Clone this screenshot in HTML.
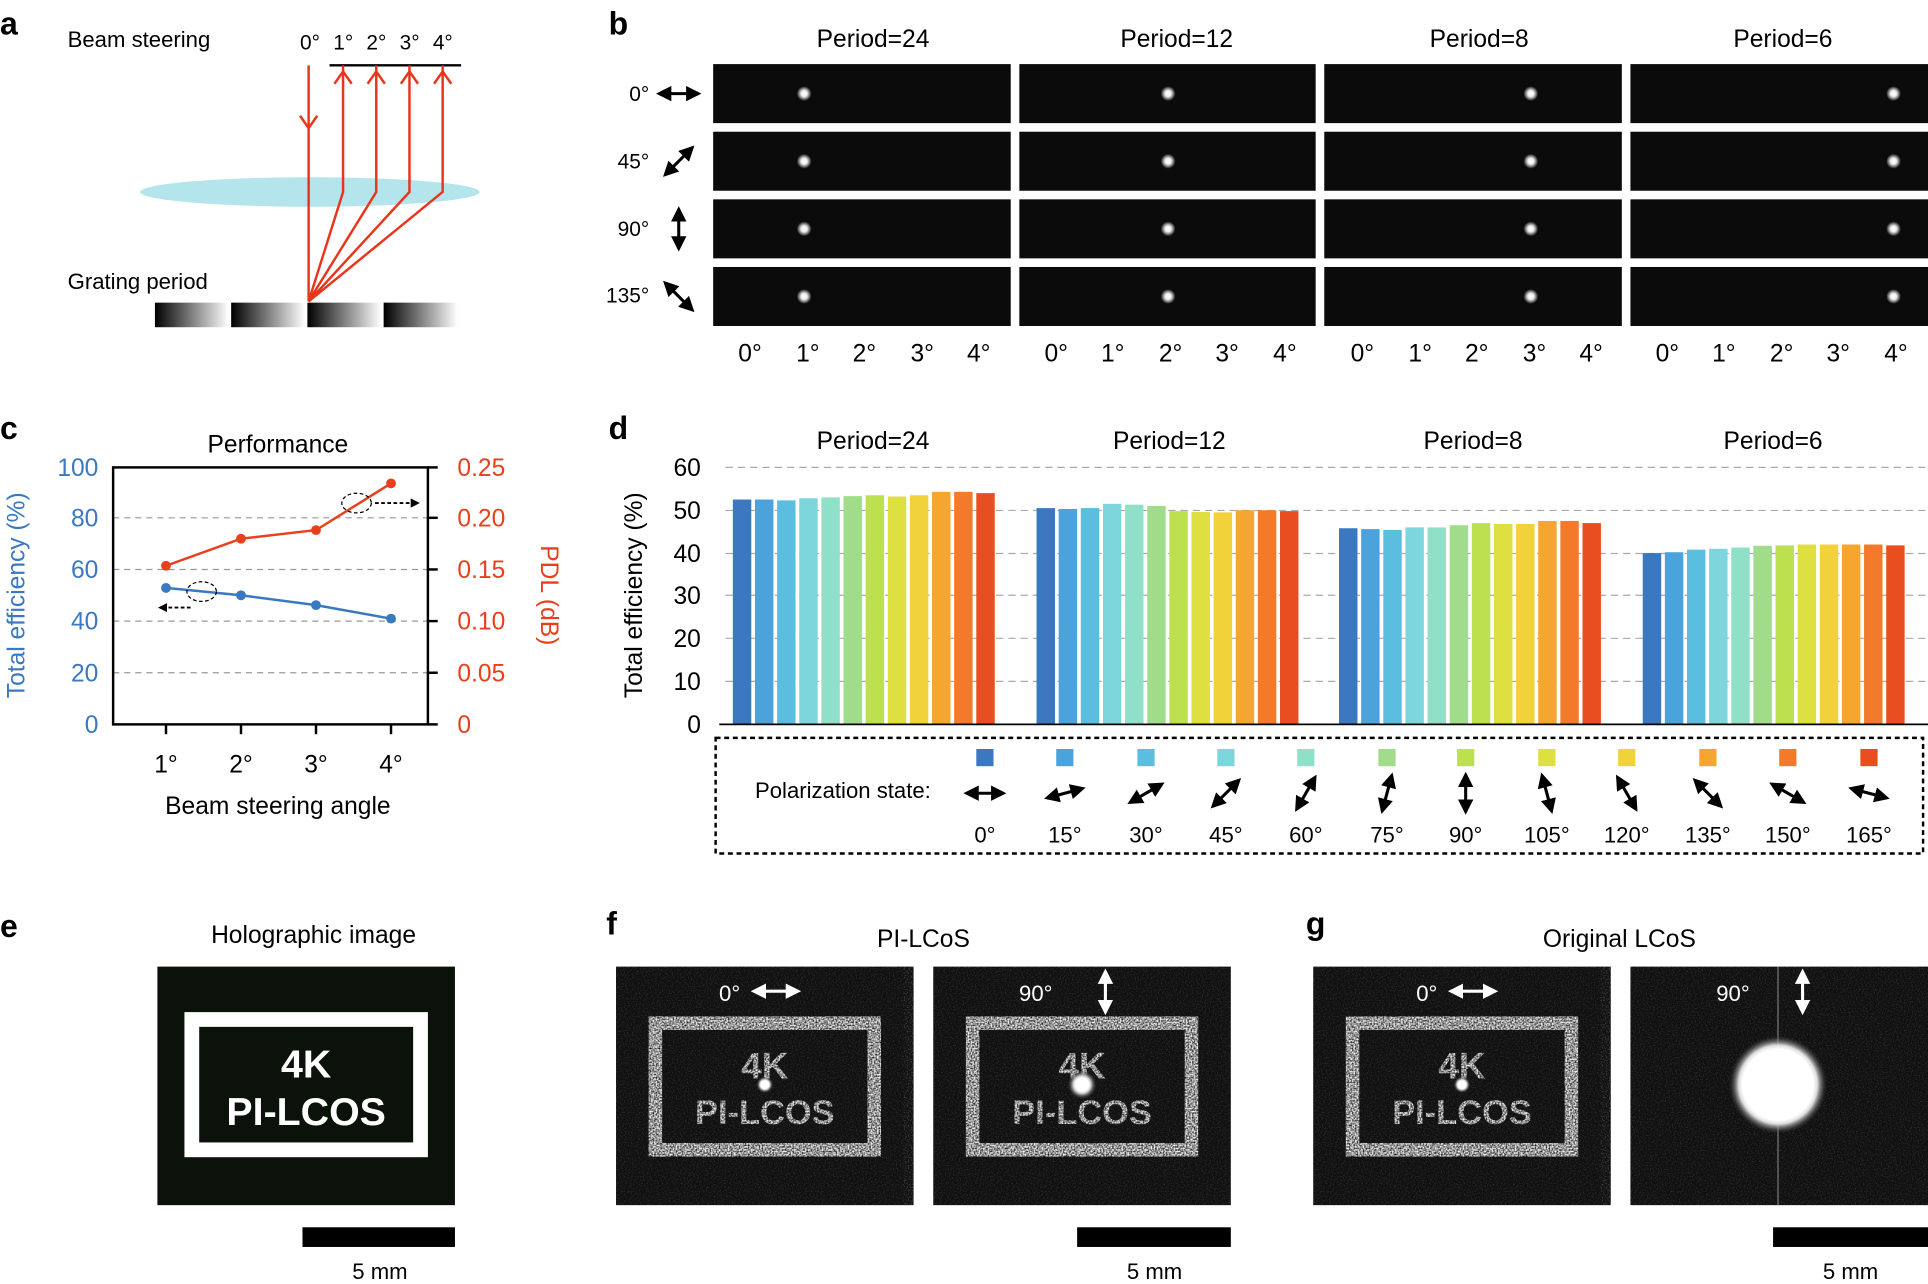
<!DOCTYPE html>
<html><head><meta charset="utf-8"><style>
html,body{margin:0;padding:0;background:#fff;}
svg{display:block;}
text{font-family:"Liberation Sans",Arial,sans-serif;}
</style></head><body>
<svg width="1928" height="1284" viewBox="0 0 1568 1044" xmlns="http://www.w3.org/2000/svg">
<defs>
<marker id="ah" viewBox="0 0 10 10" refX="8" refY="5" markerWidth="5" markerHeight="5" orient="auto-start-reverse"><path d="M0,0L10,5L0,10z" fill="#000"/></marker>
<marker id="ahw" viewBox="0 0 10 10" refX="8" refY="5" markerWidth="5" markerHeight="5" orient="auto-start-reverse"><path d="M0,0L10,5L0,10z" fill="#fff"/></marker>
<linearGradient id="gr" x1="0" x2="1"><stop offset="0" stop-color="#000"/><stop offset="1" stop-color="#fff"/></linearGradient>
<radialGradient id="spot"><stop offset="0" stop-color="#fff"/><stop offset="0.4" stop-color="#eee"/><stop offset="1" stop-color="#fff" stop-opacity="0"/></radialGradient>
<radialGradient id="glow"><stop offset="0.45" stop-color="#fff"/><stop offset="0.6" stop-color="#ccc"/><stop offset="1" stop-color="#222" stop-opacity="0"/></radialGradient>
<radialGradient id="big"><stop offset="0.72" stop-color="#fff"/><stop offset="0.8" stop-color="#ddd"/><stop offset="1" stop-color="#333" stop-opacity="0"/></radialGradient>
<filter id="noise"><feTurbulence type="fractalNoise" baseFrequency="0.9" numOctaves="1" seed="3"/><feColorMatrix values="0 0 0 0 1 0 0 0 0 1 0 0 0 0 1 0 0 0 1.2 -0.55"/></filter>
<filter id="speck" x="0" y="0" width="1" height="1"><feTurbulence type="fractalNoise" baseFrequency="0.8" numOctaves="1" seed="7" result="n"/><feColorMatrix in="n" type="matrix" values="0 0 0 0 0 0 0 0 0 0 0 0 0 0 0 0 0 0 -2.2 1.7" result="m"/><feComposite in="SourceGraphic" in2="m" operator="in"/></filter>
</defs>

<text x="0" y="28" font-size="26" font-weight="bold">a</text>
<text x="55" y="38" font-size="18">Beam steering</text>
<g font-size="17"><text x="244" y="40">0°</text><text x="271" y="40">1°</text><text x="298" y="40">2°</text><text x="325" y="40">3°</text><text x="352" y="40">4°</text></g>
<line x1="268" y1="53" x2="375" y2="53" stroke="#000" stroke-width="2"/>
<ellipse cx="252" cy="156" rx="138" ry="12" fill="#b5e5ec"/>
<g stroke="#e8351c" stroke-width="2" fill="none">
<line x1="251" y1="53" x2="251" y2="245"/><polyline points="244,94 251,104 258,94"/>
<polyline points="251,245 279,156 279,53"/><polyline points="272,68 279,58 286,68"/>
<polyline points="251,245 306,156 306,53"/><polyline points="299,68 306,58 313,68"/>
<polyline points="251,245 333,156 333,53"/><polyline points="326,68 333,58 340,68"/>
<polyline points="251,245 360,156 360,53"/><polyline points="353,68 360,58 367,68"/>
</g>
<text x="55" y="235" font-size="18">Grating period</text>
<g fill="url(#gr)"><rect x="126" y="246" width="60" height="20"/><rect x="188" y="246" width="60" height="20"/><rect x="250" y="246" width="60" height="20"/><rect x="312" y="246" width="60" height="20"/></g>

<text x="495" y="28" font-size="26" font-weight="bold">b</text>
<g font-size="20" text-anchor="middle"><text x="710" y="38">Period=24</text><text x="957" y="38">Period=12</text><text x="1203" y="38">Period=8</text><text x="1450" y="38">Period=6</text></g>
<g fill="#0b0b0b">
<rect x="580" y="52" width="242" height="48"/><rect x="829" y="52" width="241" height="48"/><rect x="1077" y="52" width="242" height="48"/><rect x="1326" y="52" width="242" height="48"/>
<rect x="580" y="107" width="242" height="48"/><rect x="829" y="107" width="241" height="48"/><rect x="1077" y="107" width="242" height="48"/><rect x="1326" y="107" width="242" height="48"/>
<rect x="580" y="162" width="242" height="48"/><rect x="829" y="162" width="241" height="48"/><rect x="1077" y="162" width="242" height="48"/><rect x="1326" y="162" width="242" height="48"/>
<rect x="580" y="217" width="242" height="48"/><rect x="829" y="217" width="241" height="48"/><rect x="1077" y="217" width="242" height="48"/><rect x="1326" y="217" width="242" height="48"/>
</g>
<g fill="url(#spot)">
<circle cx="654" cy="76" r="6"/><circle cx="950" cy="76" r="6"/><circle cx="1245" cy="76" r="6"/><circle cx="1540" cy="76" r="6"/>
<circle cx="654" cy="131" r="6"/><circle cx="950" cy="131" r="6"/><circle cx="1245" cy="131" r="6"/><circle cx="1540" cy="131" r="6"/>
<circle cx="654" cy="186" r="6"/><circle cx="950" cy="186" r="6"/><circle cx="1245" cy="186" r="6"/><circle cx="1540" cy="186" r="6"/>
<circle cx="654" cy="241" r="6"/><circle cx="950" cy="241" r="6"/><circle cx="1245" cy="241" r="6"/><circle cx="1540" cy="241" r="6"/>
</g>
<g font-size="17" text-anchor="end"><text x="528" y="82">0°</text><text x="528" y="137">45°</text><text x="528" y="192">90°</text><text x="528" y="246">135°</text></g>
<g stroke="#000" stroke-width="2.5" marker-start="url(#ah)" marker-end="url(#ah)">
<line x1="536" y1="76" x2="568" y2="76"/><line x1="541" y1="142" x2="563" y2="120"/><line x1="552" y1="170" x2="552" y2="202"/><line x1="541" y1="230" x2="563" y2="252"/>
</g>
<g font-size="20" text-anchor="middle">
<text x="610" y="294">0°</text><text x="657" y="294">1°</text><text x="703" y="294">2°</text><text x="750" y="294">3°</text><text x="796" y="294">4°</text>
<text x="859" y="294">0°</text><text x="905" y="294">1°</text><text x="952" y="294">2°</text><text x="998" y="294">3°</text><text x="1045" y="294">4°</text>
<text x="1108" y="294">0°</text><text x="1155" y="294">1°</text><text x="1201" y="294">2°</text><text x="1248" y="294">3°</text><text x="1294" y="294">4°</text>
<text x="1356" y="294">0°</text><text x="1402" y="294">1°</text><text x="1449" y="294">2°</text><text x="1495" y="294">3°</text><text x="1542" y="294">4°</text>
</g>

<text x="0" y="357" font-size="26" font-weight="bold">c</text>
<text x="226" y="368" font-size="20" text-anchor="middle">Performance</text>
<g stroke="#999" stroke-dasharray="5,4" stroke-width="1"><line x1="92" y1="547" x2="348" y2="547"/><line x1="92" y1="505" x2="348" y2="505"/><line x1="92" y1="463" x2="348" y2="463"/><line x1="92" y1="421" x2="348" y2="421"/></g>
<rect x="92" y="380" width="256" height="209" fill="none" stroke="#000" stroke-width="2"/>
<g stroke="#000" stroke-width="2"><line x1="348" y1="380" x2="356" y2="380"/><line x1="348" y1="421" x2="356" y2="421"/><line x1="348" y1="463" x2="356" y2="463"/><line x1="348" y1="505" x2="356" y2="505"/><line x1="348" y1="547" x2="356" y2="547"/><line x1="348" y1="589" x2="356" y2="589"/>
<line x1="135" y1="589" x2="135" y2="597"/><line x1="196" y1="589" x2="196" y2="597"/><line x1="257" y1="589" x2="257" y2="597"/><line x1="318" y1="589" x2="318" y2="597"/></g>
<g font-size="20" fill="#3a78c0" text-anchor="end"><text x="80" y="387">100</text><text x="80" y="428">80</text><text x="80" y="470">60</text><text x="80" y="512">40</text><text x="80" y="554">20</text><text x="80" y="596">0</text></g>
<g font-size="20" fill="#e8401c"><text x="372" y="387">0.25</text><text x="372" y="428">0.20</text><text x="372" y="470">0.15</text><text x="372" y="512">0.10</text><text x="372" y="554">0.05</text><text x="372" y="596">0</text></g>
<text transform="translate(20,484) rotate(-90)" font-size="20" fill="#3a78c0" text-anchor="middle">Total efficiency (%)</text>
<text transform="translate(440,484) rotate(90)" font-size="20" fill="#e8401c" text-anchor="middle">PDL (dB)</text>
<polyline points="135,478 196,484 257,492 318,503" fill="none" stroke="#3a78c0" stroke-width="2"/>
<g fill="#3a78c0"><circle cx="135" cy="478" r="4"/><circle cx="196" cy="484" r="4"/><circle cx="257" cy="492" r="4"/><circle cx="318" cy="503" r="4"/></g>
<polyline points="135,460 196,438 257,431 318,393" fill="none" stroke="#e8401c" stroke-width="2"/>
<g fill="#e8401c"><circle cx="135" cy="460" r="4"/><circle cx="196" cy="438" r="4"/><circle cx="257" cy="431" r="4"/><circle cx="318" cy="393" r="4"/></g>
<ellipse cx="164" cy="481" rx="12" ry="8" fill="none" stroke="#000" stroke-dasharray="3,2"/>
<line x1="155" y1="494" x2="130" y2="494" stroke="#000" stroke-width="1.5" stroke-dasharray="3,2" marker-end="url(#ah)"/>
<ellipse cx="290" cy="409" rx="12" ry="8" fill="none" stroke="#000" stroke-dasharray="3,2"/>
<line x1="305" y1="409" x2="340" y2="409" stroke="#000" stroke-width="1.5" stroke-dasharray="3,2" marker-end="url(#ah)"/>
<g font-size="20" text-anchor="middle"><text x="135" y="628">1°</text><text x="196" y="628">2°</text><text x="257" y="628">3°</text><text x="318" y="628">4°</text></g>
<text x="226" y="662" font-size="20" text-anchor="middle">Beam steering angle</text>

<text x="495" y="357" font-size="26" font-weight="bold">d</text>
<g font-size="20" text-anchor="middle"><text x="710" y="365">Period=24</text><text x="951" y="365">Period=12</text><text x="1198" y="365">Period=8</text><text x="1442" y="365">Period=6</text></g>
<text transform="translate(522,484) rotate(-90)" font-size="20" text-anchor="middle">Total efficiency (%)</text>
<g stroke="#aaa" stroke-dasharray="6,4" stroke-width="1">
<line x1="590" y1="380" x2="1568" y2="380"/><line x1="590" y1="415" x2="1568" y2="415"/><line x1="590" y1="450" x2="1568" y2="450"/><line x1="590" y1="484" x2="1568" y2="484"/><line x1="590" y1="519" x2="1568" y2="519"/><line x1="590" y1="554" x2="1568" y2="554"/></g>
<g font-size="20" text-anchor="end"><text x="570" y="387">60</text><text x="570" y="422">50</text><text x="570" y="457">40</text><text x="570" y="491">30</text><text x="570" y="526">20</text><text x="570" y="561">10</text><text x="570" y="596">0</text></g>
<g id="bars"></g>
<line x1="585" y1="589" x2="1568" y2="589" stroke="#000" stroke-width="1.5"/>
<rect x="582" y="600" width="982" height="94" fill="none" stroke="#000" stroke-width="2" stroke-dasharray="4,3"/>
<text x="614" y="649" font-size="18">Polarization state:</text>
<g id="leg"></g>

<text x="0" y="762" font-size="26" font-weight="bold">e</text>
<text x="255" y="767" font-size="20" text-anchor="middle">Holographic image</text>
<rect x="128" y="786" width="242" height="194" fill="#0b120a"/>
<rect x="156" y="829" width="186" height="106" fill="none" stroke="#fff" stroke-width="12"/>
<g font-size="32" font-weight="bold" fill="#fff" text-anchor="middle"><text x="249" y="876">4K</text><text x="249" y="915">PI-LCOS</text></g>
<rect x="246" y="998" width="124" height="16" fill="#000"/>
<text x="309" y="1040" font-size="18" text-anchor="middle">5 mm</text>

<text x="493" y="760" font-size="26" font-weight="bold">f</text>
<text x="751" y="770" font-size="20" text-anchor="middle">PI-LCoS</text>
<text x="1062" y="760" font-size="26" font-weight="bold">g</text>
<text x="1317" y="770" font-size="20" text-anchor="middle">Original LCoS</text>
<g id="imgs"></g>
<rect x="876" y="998" width="125" height="16" fill="#000"/>
<text x="939" y="1040" font-size="18" text-anchor="middle">5 mm</text>
<rect x="1442" y="998" width="126" height="16" fill="#000"/>
<text x="1505" y="1040" font-size="18" text-anchor="middle">5 mm</text>
</svg>
<script>
var NS="http://www.w3.org/2000/svg";
function el(p,t,a,txt){var e=document.createElementNS(NS,t);for(var k in a)e.setAttribute(k,a[k]);if(txt)e.textContent=txt;p.appendChild(e);return e;}
var cols=["#3b78c0","#4ca3dc","#5bbde0","#7dd6dc","#8fe0c8","#a0dc8a","#bde04f","#dde040","#f2d23a","#f5a630","#f27a2a","#e84e1f"];
var vals=[[52.5,52.5,52.3,52.8,53,53.3,53.5,53.2,53.5,54.3,54.3,54],
[50.5,50.3,50.5,51.5,51.3,51,49.8,49.6,49.5,50,50,49.8],
[45.8,45.6,45.4,46,46,46.5,47,46.8,46.8,47.5,47.5,47],
[40,40.2,40.8,41,41.3,41.7,41.8,42,42,42,42,41.8]];
var starts=[596,843,1089,1336],b=document.getElementById("bars");
for(var g=0;g<4;g++)for(var i=0;i<12;i++){var v=vals[g][i],h=v*3.483;el(b,"rect",{x:starts[g]+i*18,y:589-h,width:15,height:h,fill:cols[i]});}
var L=document.getElementById("leg"),xs=[801,866,932,997,1062,1128,1192,1258,1323,1389,1454,1520];
for(var i=0;i<12;i++){var x=xs[i],a=i*15*Math.PI/180,dx=15*Math.cos(a),dy=-15*Math.sin(a);
el(L,"rect",{x:x-7,y:609,width:14,height:14,fill:cols[i]});
el(L,"line",{x1:x-dx,y1:645-dy,x2:x+dx,y2:645+dy,stroke:"#000","stroke-width":2.5,"marker-start":"url(#ah)","marker-end":"url(#ah)"});
el(L,"text",{x:x,y:685,"font-size":18,"text-anchor":"middle"},(i*15)+"°");}
var I=document.getElementById("imgs");
var ims=[[501,"0°",0],[759,"90°",1],[1068,"0°",0],[1326,"90°",2]];
ims.forEach(function(m){var x=m[0];
el(I,"rect",{x:x,y:786,width:242,height:194,fill:"#101010"});
el(I,"rect",{x:x,y:786,width:242,height:194,fill:"#888",filter:"url(#noise)",opacity:0.3});
if(m[2]<2){var gg=el(I,"g",{filter:"url(#speck)"});
el(gg,"rect",{x:x,y:786,width:242,height:194,fill:"none"});
el(gg,"rect",{x:x+32,y:832,width:178,height:103,fill:"none",stroke:"#eee","stroke-width":11});
el(gg,"text",{x:x+121,y:877,"font-size":30,"font-weight":"bold",fill:"#eee","text-anchor":"middle"},"4K");
el(gg,"text",{x:x+121,y:914,"font-size":28,"font-weight":"bold",fill:"#eee","text-anchor":"middle"},"PI-LCOS");
el(I,"circle",{cx:x+121,cy:882,r:m[2]==1?12:7,fill:"url(#glow)"});}
else{el(I,"line",{x1:x+120,y1:786,x2:x+120,y2:980,stroke:"#777","stroke-width":1});el(I,"circle",{cx:x+120,cy:882,r:40,fill:"url(#big)"});}
el(I,"text",{x:x+m[1].length*8+85-(m[1]=="0°"?0:12),y:814,"font-size":18,fill:"#fff","text-anchor":"end"},m[1]);
if(m[1]=="0°")el(I,"line",{x1:x+112,y1:806,x2:x+148,y2:806,stroke:"#fff","stroke-width":2.5,"marker-start":"url(#ahw)","marker-end":"url(#ahw)"});
else el(I,"line",{x1:x+140,y1:790,x2:x+140,y2:823,stroke:"#fff","stroke-width":2.5,"marker-start":"url(#ahw)","marker-end":"url(#ahw)"});
});
</script>
</body></html>
